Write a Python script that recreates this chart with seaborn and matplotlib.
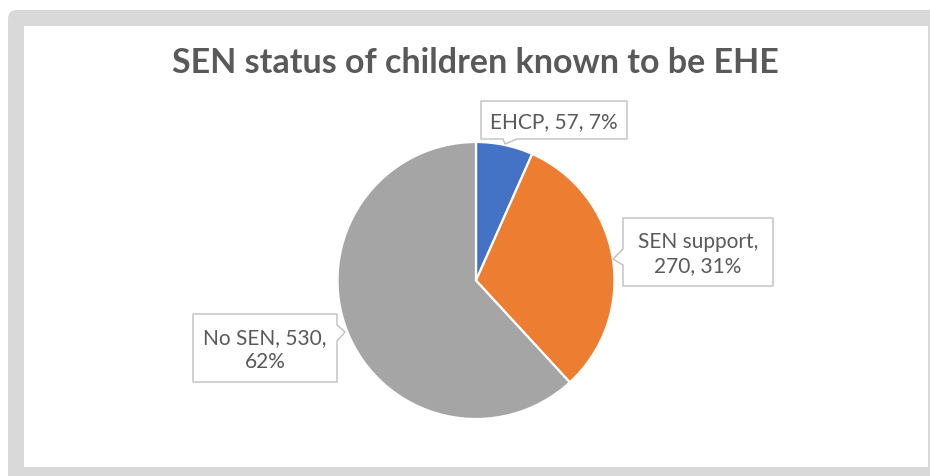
import textwrap
import matplotlib
matplotlib.use("Agg")
import matplotlib.pyplot as plt
from matplotlib.patches import FancyBboxPatch, Rectangle, Polygon
import seaborn as sns

# Data
categories = ["EHCP", "SEN support", "No SEN"]
counts = [57, 270, 530]
percents = [7, 31, 62]
colors = ["#4472C4", "#ED7D31", "#A5A5A5"]
title = "SEN status of children known to be EHE"

sns.set_theme(style="white")
plt.rcParams["font.family"] = ["Lato", "DejaVu Sans"]

W, H, DPI = 930, 477, 100
fig = plt.figure(figsize=(W / DPI, H / DPI), dpi=DPI)
fig.patch.set_facecolor("white")

# Background axes in pixel units (y downwards) for frame, title and callouts
bg = fig.add_axes([0, 0, 1, 1])
bg.set_xlim(0, W)
bg.set_ylim(H, 0)
bg.axis("off")
bg.set_zorder(1)

bg.add_patch(FancyBboxPatch((8, 11), 940, 490, boxstyle="round,pad=0,rounding_size=9",
                            facecolor="#D9D9D9", edgecolor="none", zorder=0))
bg.add_patch(Rectangle((24, 27), 904, 441, facecolor="white", edgecolor="none", zorder=1))

bg.text(475, 63, title, ha="center", va="center", fontsize=24.5, fontweight="bold",
        color="#595959", zorder=3)

# Pie axes: centre (476, 281.5), radius 138.5 px
cx, cy, r = 476, 281.5, 138.5
pie_ax = fig.add_axes([(cx - r) / W, 1 - (cy + r) / H, 2 * r / W, 2 * r / H])
pie_ax.set_zorder(2)
pie_ax.pie(counts, colors=colors, startangle=90, counterclock=False,
           wedgeprops=dict(edgecolor="white", linewidth=1.6))
pie_ax.set_xlim(-1, 1)
pie_ax.set_ylim(-1, 1)
pie_ax.set_aspect("equal")
pie_ax.axis("off")

labels = [textwrap.fill(f"{c}, {v}, {p}%", 12)
          for c, v, p in zip(categories, counts, percents)]

# Callout boxes drawn over the pie: (x0, y0, x1, y1), pointer side, pointer base span, tip
callouts = [
    ((481, 102, 627, 140), "bottom", (503, 517), (505, 145)),
    ((623, 219, 773, 287), "left", (250, 266), (613, 260)),
    ((193, 315, 337, 383), "right", (326, 342), (345, 333)),
]

over = fig.add_axes([0, 0, 1, 1])
over.set_xlim(0, W)
over.set_ylim(H, 0)
over.axis("off")
over.set_zorder(3)

for lab, (box, side, span, tip) in zip(labels, callouts):
    x0, y0, x1, y1 = box
    a, b = span
    if side == "bottom":
        pts = [(x0, y0), (x1, y0), (x1, y1), (b, y1), tip, (a, y1), (x0, y1)]
    elif side == "left":
        pts = [(x0, y0), (x1, y0), (x1, y1), (x0, y1), (x0, b), tip, (x0, a)]
    else:
        pts = [(x0, y0), (x1, y0), (x1, a), tip, (x1, b), (x1, y1), (x0, y1)]
    over.add_patch(Polygon(pts, closed=True, facecolor="white", edgecolor="#BFBFBF",
                           linewidth=1.0, zorder=4))
    over.text((x0 + x1) / 2, (y0 + y1) / 2 + 1, lab, ha="center", va="center",
              fontsize=15, color="#595959", linespacing=1.25, zorder=5)

fig.savefig("out.png", dpi=DPI)
